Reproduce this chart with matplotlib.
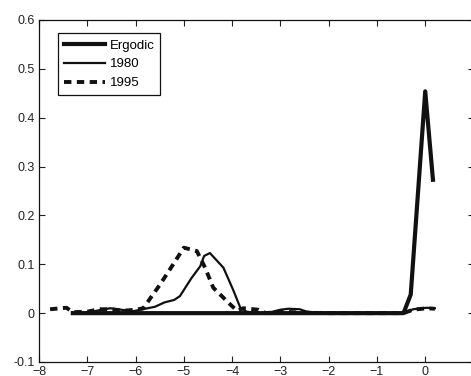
import matplotlib
matplotlib.use("Agg")
from matplotlib import pyplot as plt
from matplotlib.ticker import FuncFormatter

plt.rcParams['font.family'] = ['Liberation Sans', 'DejaVu Sans']

ergodic_x = [-7.3, -0.45, -0.3, 0.0, 0.16]
ergodic_y = [0.0, 0.0, 0.038, 0.454, 0.273]

y1980_x = [-7.3, -7.0, -6.75, -6.53, -6.3, -6.05, -5.85, -5.6, -5.4, -5.2, -5.08,
           -4.84, -4.66, -4.58, -4.46, -4.18, -3.98, -3.83, -3.7, -3.45, -3.2,
           -3.0, -2.83, -2.6, -2.45, -2.2, -1.5, -0.45, -0.25, 0.03, 0.2]
y1980_y = [0.0, 0.001, 0.006, 0.01, 0.007, 0.004, 0.008, 0.013, 0.022, 0.027, 0.035,
           0.072, 0.096, 0.117, 0.123, 0.093, 0.048, 0.011, 0.003, 0.0, 0.002,
           0.007, 0.009, 0.008, 0.003, 0.001, 0.0, 0.0, 0.008, 0.011, 0.01]

y1995_x = [-7.77, -7.43, -7.3, -7.0, -6.75, -6.5, -6.25, -6.0, -5.84, -5.49, -5.22,
           -5.0, -4.73, -4.56, -4.39, -4.04, -3.9, -3.77, -3.46, -3.3, -3.0, -2.5,
           -2.0, -1.5, -1.0, -0.45, -0.25, 0.03, 0.2]
y1995_y = [0.008, 0.011, 0.002, 0.003, 0.008, 0.008, 0.005, 0.007, 0.01, 0.059, 0.1,
           0.134, 0.127, 0.093, 0.052, 0.018, 0.005, 0.01, 0.007, 0.0, 0.003, 0.001,
           0.0, 0.0, 0.0, 0.0, 0.007, 0.01, 0.009]

x_ticks = [-8, -7, -6, -5, -4, -3, -2, -1, 0, 1]
y_ticks = [-0.1, 0.0, 0.1, 0.2, 0.3, 0.4, 0.5, 0.6]

fig = plt.figure(figsize=(4.71, 3.76), dpi=100)
ax = fig.add_axes([39 / 471, 14 / 376, 434.5 / 471, 342 / 376])

ax.plot(ergodic_x, ergodic_y, color='#111111', linewidth=3.0, label='Ergodic')
ax.plot(y1980_x, y1980_y, color='#111111', linewidth=1.6, label='1980')
ax.plot(y1995_x, y1995_y, color='#111111', linewidth=2.8, linestyle=(0, (1.9, 1.4)),
        label='1995')

ax.set_xlim(-8, 1)
ax.set_ylim(-0.1, 0.6)
ax.set_xticks(x_ticks)
ax.set_yticks(y_ticks)
ax.yaxis.set_major_formatter(FuncFormatter(lambda v, p: "{:g}".format(round(v, 2))))
ax.tick_params(direction='in', length=4, width=0.8, top=True, right=True,
               labelsize=9, colors='#222222', pad=3)
for sp in ax.spines.values():
    sp.set_linewidth(0.9)
    sp.set_color('#111111')

leg = ax.legend(loc='upper left', bbox_to_anchor=(0.044, 0.961), borderaxespad=0,
                fancybox=False, framealpha=1, edgecolor='#111111', fontsize=9.5,
                handlelength=3.1, handletextpad=0.35, labelspacing=0.5,
                borderpad=0.45)
leg.get_frame().set_linewidth(0.9)

fig.savefig('out.png', dpi=100)
